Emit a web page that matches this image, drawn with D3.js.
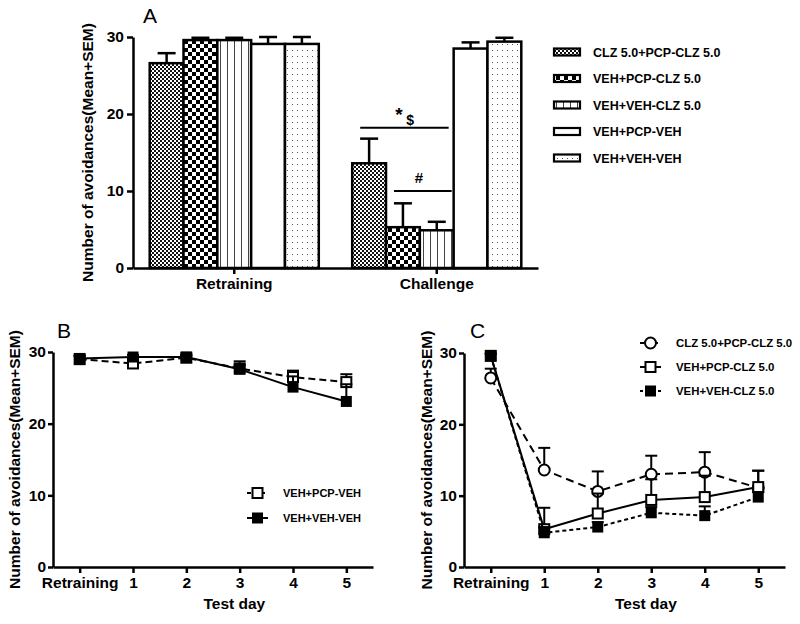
<!DOCTYPE html>
<html><head><meta charset="utf-8">
<script src="https://cdn.jsdelivr.net/npm/d3@7"></script>
<style>
body{margin:0;background:#fff;}
text{font-family:"Liberation Sans",Arial,sans-serif;}
</style></head>
<body>
<svg id="chart" width="800" height="624"></svg>
<script>
// ---------- DATA ----------
const groupsA = ["Retraining", "Challenge"];
const seriesA = ["CLZ 5.0+PCP-CLZ 5.0", "VEH+PCP-CLZ 5.0", "VEH+VEH-CLZ 5.0", "VEH+PCP-VEH", "VEH+VEH-VEH"];
const meanRetraining = [26.6, 29.6, 29.6, 29.1, 29.1];
const semRetraining  = [1.3, 0.3, 0.3, 0.9, 0.9];
const meanChallenge  = [13.6, 5.3, 4.9, 28.5, 29.4];
const semChallenge   = [3.2, 3.1, 1.1, 0.8, 0.5];
const yTicks = [0, 10, 20, 30];

const days = ["Retraining", "1", "2", "3", "4", "5"];
const seriesB = ["VEH+PCP-VEH", "VEH+VEH-VEH"];
const meanB_PcpVeh = [29.0, 28.4, 29.2, 27.7, 26.5, 25.8];
const semB_PcpVeh  = [0.4, 0.3, 0.3, 1.0, 0.9, 1.1];
const meanB_VehVeh = [29.1, 29.3, 29.3, 27.6, 25.1, 23.1];
const semB_VehVeh  = [0.4, 0.3, 0.3, 0.6, 1.5, 2.4];

const seriesC = ["CLZ 5.0+PCP-CLZ 5.0", "VEH+PCP-CLZ 5.0", "VEH+VEH-CLZ 5.0"];
const meanC_Clz    = [26.5, 13.6, 10.6, 13.0, 13.3, 11.1];
const semC_Clz     = [1.3, 3.1, 2.8, 2.6, 2.8, 2.4];
const meanC_PcpClz = [29.6, 5.3, 7.5, 9.4, 9.8, 11.2];
const semC_PcpClz  = [0.3, 3.0, 2.8, 2.9, 3.0, 2.3];
const meanC_VehClz = [29.6, 4.8, 5.6, 7.6, 7.2, 9.8];
const semC_VehClz  = [0.3, 0.8, 0.7, 0.8, 1.3, 0.7];

const yLabel = "Number of avoidances(Mean+SEM)";
const xLabel = "Test day";

// ---------- SETUP ----------
const svg = d3.select("#chart");
const defs = svg.append("defs");
const FONT = "'Liberation Sans', Arial, sans-serif";

function pat(id, w, h, build) {
  const p = defs.append("pattern").attr("id", id).attr("patternUnits", "userSpaceOnUse")
    .attr("width", w).attr("height", h);
  p.append("rect").attr("width", w).attr("height", h).attr("fill", "#fff");
  build(p);
}
pat("p0", 4, 4, p => {
  p.append("rect").attr("x", 0).attr("y", 0).attr("width", 2).attr("height", 2).attr("fill", "#111");
  p.append("rect").attr("x", 2).attr("y", 2).attr("width", 2).attr("height", 2).attr("fill", "#111");
});
pat("p1", 8, 8, p => {
  p.append("rect").attr("x", 0).attr("y", 0).attr("width", 4).attr("height", 4).attr("fill", "#000");
  p.append("rect").attr("x", 4).attr("y", 4).attr("width", 4).attr("height", 4).attr("fill", "#000");
});
pat("p2", 7, 7, p => {
  p.append("rect").attr("x", 3).attr("y", 0).attr("width", 1).attr("height", 7).attr("fill", "#444");
});
pat("p3", 7, 7, p => {});
pat("p4", 5, 6, p => {
  p.append("rect").attr("x", 2).attr("y", 2).attr("width", 1).attr("height", 1).attr("fill", "#555");
});
const fills = ["url(#p0)", "url(#p1)", "url(#p2)", "url(#p3)", "url(#p4)"];

function styleAxis(g) {
  g.selectAll("path.domain").attr("stroke", "#000").attr("stroke-width", 2.5);
  g.selectAll(".tick line").attr("stroke", "#000").attr("stroke-width", 2.5);
  g.selectAll(".tick text").attr("font-family", FONT).attr("font-weight", "bold")
    .attr("font-size", "15.5px").attr("fill", "#000");
}

// ---------- PANEL A ----------
{
  const x0 = d3.scaleBand().domain(groupsA).range([133, 538]).padding(0);
  const inner = x0.bandwidth() * 0.835;
  const off = (x0.bandwidth() - inner) / 2;
  const x1 = d3.scaleBand().domain(seriesA).range([off, off + inner]).padding(0);
  const y = d3.scaleLinear().domain([0, 30]).range([268, 37]);

  const gy = svg.append("g").attr("transform", "translate(133,0)")
    .call(d3.axisLeft(y).tickValues(yTicks).tickSize(6).tickSizeOuter(0).tickPadding(3));
  styleAxis(gy);

  const rows = groupsA.map((g, gi) => seriesA.map((s, si) => ({
    g, s, si,
    m: gi === 0 ? meanRetraining[si] : meanChallenge[si],
    e: gi === 0 ? semRetraining[si] : semChallenge[si]
  })));
  const gBars = svg.append("g");
  rows.flat().forEach(d => {
    const bx = x0(d.g) + x1(d.s), bw = x1.bandwidth();
    gBars.append("line").attr("x1", bx + bw / 2).attr("x2", bx + bw / 2)
      .attr("y1", y(d.m)).attr("y2", y(d.m + d.e)).attr("stroke", "#000").attr("stroke-width", 2.5);
    gBars.append("line").attr("x1", bx + bw / 2 - 9).attr("x2", bx + bw / 2 + 9)
      .attr("y1", y(d.m + d.e)).attr("y2", y(d.m + d.e)).attr("stroke", "#000").attr("stroke-width", 2.5);
    gBars.append("rect").attr("x", bx).attr("y", y(d.m)).attr("width", bw).attr("height", y(0) - y(d.m))
      .attr("fill", fills[d.si]).attr("stroke", "#000").attr("stroke-width", 2.5);
  });

  const gx = svg.append("g").attr("transform", "translate(0,268)")
    .call(d3.axisBottom(x0).tickSize(6).tickSizeOuter(0).tickPadding(4));
  styleAxis(gx);

  // significance marks
  const cx = x0("Challenge");
  const bw = x1.bandwidth();
  svg.append("line").attr("x1", cx + x1(seriesA[0]) + 8).attr("x2", cx + x1(seriesA[2]) + bw - 5)
    .attr("y1", y(18.2)).attr("y2", y(18.2)).attr("stroke", "#000").attr("stroke-width", 2);
  svg.append("text").attr("x", cx + x1(seriesA[1]) + 13).attr("y", y(18.2) - 4)
    .attr("font-size", "19px").attr("font-weight", "bold").attr("text-anchor", "middle").text("*")
    .attr("dy", "-3px");
  svg.append("text").attr("x", cx + x1(seriesA[1]) + 24).attr("y", y(18.2) - 3)
    .attr("font-size", "14px").attr("font-weight", "bold").attr("text-anchor", "middle").text("$");
  svg.append("line").attr("x1", cx + x1(seriesA[1]) + 8).attr("x2", cx + x1(seriesA[2]) + bw - 2)
    .attr("y1", y(10.0)).attr("y2", y(10.0)).attr("stroke", "#000").attr("stroke-width", 2);
  svg.append("text").attr("x", cx + x1(seriesA[2]) - 1).attr("y", y(10.0) - 8)
    .attr("font-size", "15px").attr("font-weight", "bold").attr("text-anchor", "middle").text("#");

  svg.append("text").attr("x", 143).attr("y", 23).attr("font-size", "21px").text("A");
  svg.append("text").attr("transform", `translate(93,${(37 + 268) / 2}) rotate(-90)`)
    .attr("text-anchor", "middle").attr("font-size", "15.5px").attr("font-weight", "bold").text(yLabel);

  // legend
  const lg = svg.append("g");
  seriesA.forEach((s, i) => {
    const yy = 52 + i * 26.5;
    lg.append("rect").attr("x", 554).attr("y", yy - 3.5).attr("width", 26).attr("height", 7)
      .attr("fill", fills[i]).attr("stroke", "#000").attr("stroke-width", 2.2);
    lg.append("text").attr("x", 593).attr("y", yy).attr("dy", "0.36em")
      .attr("font-size", "12.5px").attr("font-weight", "bold").text(s);
  });
}

// ---------- LINE PANELS ----------
function marker(g, type, cx, cy) {
  if (type === "sqOpen") {
    g.append("rect").attr("x", cx - 5).attr("y", cy - 5).attr("width", 10).attr("height", 10)
      .attr("fill", "#fff").attr("stroke", "#000").attr("stroke-width", 2);
  } else if (type === "sqFill") {
    g.append("rect").attr("x", cx - 5.5).attr("y", cy - 5.5).attr("width", 11).attr("height", 11)
      .attr("fill", "#000");
  } else if (type === "circOpen") {
    g.append("circle").attr("cx", cx).attr("cy", cy).attr("r", 5.5)
      .attr("fill", "#fff").attr("stroke", "#000").attr("stroke-width", 2);
  }
}

function linePanel(opts) {
  const x = d3.scaleLinear().domain([-0.5, 5.5]).range([opts.x0, opts.x1]);
  const y = d3.scaleLinear().domain([0, 30]).range([567, opts.yTop]);
  const gy = svg.append("g").attr("transform", `translate(${opts.x0},0)`)
    .call(d3.axisLeft(y).tickValues(yTicks).tickSize(5).tickSizeOuter(0).tickPadding(2));
  styleAxis(gy);
  const gx = svg.append("g").attr("transform", "translate(0,567)")
    .call(d3.axisBottom(x).tickValues(d3.range(days.length)).tickFormat(i => days[i])
      .tickSize(6).tickSizeOuter(0).tickPadding(4));
  styleAxis(gx);

  const line = d3.line().x((d, i) => x(i)).y(d => y(d));
  opts.series.forEach(s => {
    const g = svg.append("g");
    s.mean.forEach((m, i) => {
      g.append("line").attr("x1", x(i)).attr("x2", x(i)).attr("y1", y(m)).attr("y2", y(m + s.sem[i]))
        .attr("stroke", "#000").attr("stroke-width", 2);
      g.append("line").attr("x1", x(i) - 6).attr("x2", x(i) + 6).attr("y1", y(m + s.sem[i])).attr("y2", y(m + s.sem[i]))
        .attr("stroke", "#000").attr("stroke-width", 2);
    });
    g.append("path").attr("d", line(s.mean)).attr("fill", "none").attr("stroke", "#000")
      .attr("stroke-width", 2).attr("stroke-dasharray", s.dash);
    s.mean.forEach((m, i) => marker(g, s.marker, x(i), y(m)));
  });

  svg.append("text").attr("x", opts.labelX).attr("y", 338).attr("font-size", "21px").text(opts.label);
  svg.append("text").attr("transform", `translate(${opts.yLabX},${(567 + opts.yTop) / 2}) rotate(-90)`)
    .attr("text-anchor", "middle").attr("font-size", "15.5px").attr("font-weight", "bold").text(yLabel);
  svg.append("text").attr("x", x(2.9)).attr("y", 609).attr("text-anchor", "middle")
    .attr("font-size", "15.5px").attr("font-weight", "bold").text(xLabel);

  // legend
  opts.series.forEach((s, i) => {
    const yy = opts.legY + i * opts.legStep;
    const lg = svg.append("g");
    lg.append("line").attr("x1", opts.legX).attr("x2", opts.legX + 21).attr("y1", yy).attr("y2", yy)
      .attr("stroke", "#000").attr("stroke-width", 2).attr("stroke-dasharray", s.legDash);
    marker(lg, s.marker, opts.legX + 10.5, yy);
    lg.append("text").attr("x", opts.legX + 36).attr("y", yy).attr("dy", "0.36em")
      .attr("font-size", opts.legFont).attr("font-weight", "bold").text(s.name);
  });
}

linePanel({
  x0: 53, x1: 373, yTop: 352, label: "B", labelX: 57, yLabX: 20,
  legX: 247, legY: 493, legStep: 25, legFont: "11px",
  series: [
    { name: seriesB[0], mean: meanB_PcpVeh, sem: semB_PcpVeh, marker: "sqOpen", dash: "7,4", legDash: "4,3" },
    { name: seriesB[1], mean: meanB_VehVeh, sem: semB_VehVeh, marker: "sqFill", dash: null, legDash: null }
  ]
});

linePanel({
  x0: 464, x1: 785, yTop: 353, label: "C", labelX: 470, yLabX: 432,
  legX: 640, legY: 343, legStep: 24, legFont: "11.4px",
  series: [
    { name: seriesC[0], mean: meanC_Clz, sem: semC_Clz, marker: "circOpen", dash: "8,5", legDash: "4,3" },
    { name: seriesC[1], mean: meanC_PcpClz, sem: semC_PcpClz, marker: "sqOpen", dash: null, legDash: null },
    { name: seriesC[2], mean: meanC_VehClz, sem: semC_VehClz, marker: "sqFill", dash: "4,3", legDash: "3,3" }
  ]
});
</script>
</body></html>
